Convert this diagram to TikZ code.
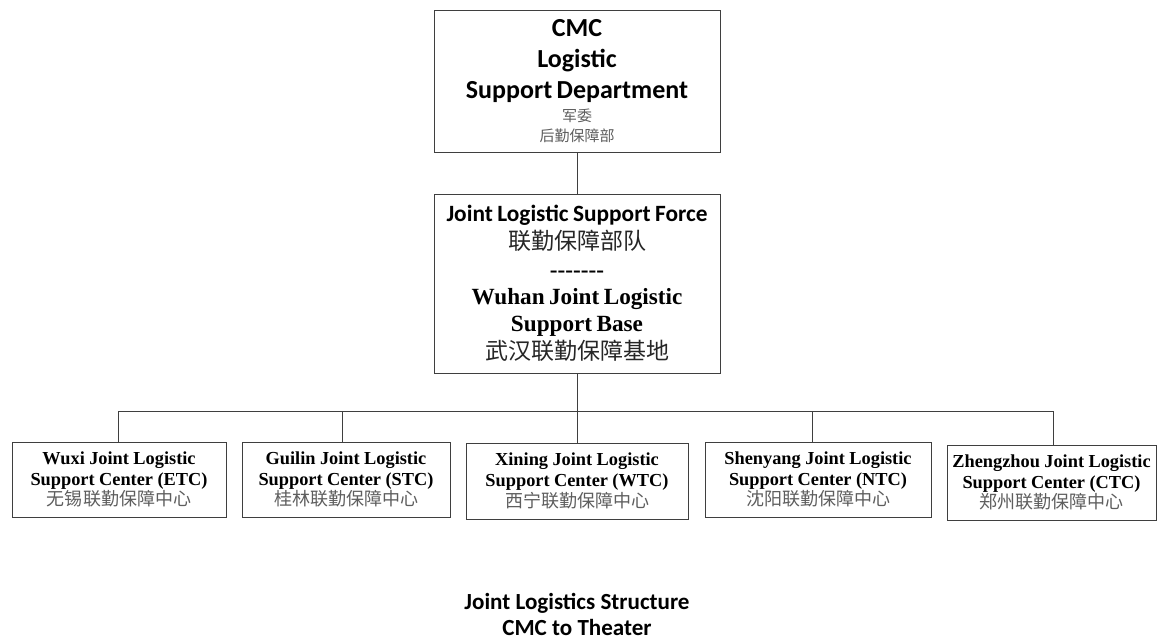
\documentclass[tikz,border=0pt]{standalone}
\usepackage{fontspec}
\setmainfont{Liberation Serif}
\setsansfont{Carlito}
\newfontfamily\cjk{Noto Sans CJK SC}

\definecolor{linegray}{HTML}{3F3F3F}
\definecolor{zhgray}{HTML}{5E5E5E}

\newcommand{\topsans}{\sffamily\bfseries\fontsize{19.5}{23.25}\selectfont}
\newcommand{\topzh}{\cjk\color{zhgray}\fontsize{11.25}{15}\selectfont}
\newcommand{\midsans}{\sffamily\bfseries\fontsize{17.5}{21}\selectfont}
\newcommand{\midserif}{\bfseries\fontsize{17.4}{20.5}\selectfont}
\newcommand{\midzh}{\cjk\color{black!85}\fontsize{17.25}{21}\selectfont}
\newcommand{\centerbox}[3]{{\bfseries\fontsize{13.75}{15.5}\selectfont #1\\#2\par}{\cjk\color{zhgray}\fontsize{13.5}{15.5}\selectfont #3\par}}

\tikzset{
  orgbox/.style={draw=linegray, line width=0.75pt, inner xsep=0pt, inner ysep=0pt, align=center, fill=white},
  link/.style={draw=linegray, line width=0.75pt},
}

\begin{document}
\begin{tikzpicture}[x=0.75pt,y=0.75pt,yscale=-1,xscale=1]
\useasboundingbox (0,0) rectangle (1162,640);

%Shape: CMC box
\node[orgbox, text width=214.5pt, minimum height=106.5pt] (cmc) at (577,81)
  {{\topsans CMC\\Logistic\\Support Department\par}\vspace{2pt}{\topzh 军委\\后勤保障部\par}};
%Shape: JLSF box
\node[orgbox, text width=214.5pt, minimum height=134.25pt] (jlsf) at (577,283.5)
  {{\midsans Joint Logistic Support Force\par}{\midzh 联勤保障部队\par}{\midserif -{}-{}-{}-{}-{}-{}-\par}{\midserif Wuhan Joint Logistic\\Support Base\par}{\midzh 武汉联勤保障基地\par}};

%Shape: theater centers
\node[orgbox, text width=160.5pt, minimum height=56.25pt] (wuxi) at (119,479.5)
  {\centerbox{Wuxi Joint Logistic}{Support Center (ETC)}{无锡联勤保障中心}};
\node[orgbox, text width=156pt, minimum height=56.25pt] (guilin) at (346,479.5)
  {\centerbox{Guilin Joint Logistic}{Support Center (STC)}{桂林联勤保障中心}};
\node[orgbox, text width=166.5pt, minimum height=57pt] (xining) at (577,481)
  {\centerbox{Xining Joint Logistic}{Support Center (WTC)}{西宁联勤保障中心}};
\node[orgbox, text width=169.5pt, minimum height=56.25pt] (shenyang) at (818,479.5)
  {\centerbox{Shenyang Joint Logistic}{Support Center (NTC)}{沈阳联勤保障中心}};
\node[orgbox, text width=156.75pt, minimum height=56.25pt] (zhengzhou) at (1051.5,482.5)
  {\centerbox{Zhengzhou Joint Logistic}{Support Center (CTC)}{郑州联勤保障中心}};

%Straight Lines
\coordinate (bus) at (577,411);
\draw[link] (cmc) -- (jlsf);
\draw[link] (jlsf) -- (bus);
\foreach \c/\dx in {wuxi/-1,guilin/-4,xining/0,shenyang/-6,zhengzhou/1.5}
  \draw[link] (bus) -| ([xshift=\dx*0.75pt]\c.north);

% Text Node
\node[align=center, inner sep=0pt, font=\sffamily\bfseries\fontsize{17.3}{19.5}\selectfont] (title) at (577,614)
  {Joint Logistics Structure\\CMC to Theater};
\end{tikzpicture}
\end{document}
